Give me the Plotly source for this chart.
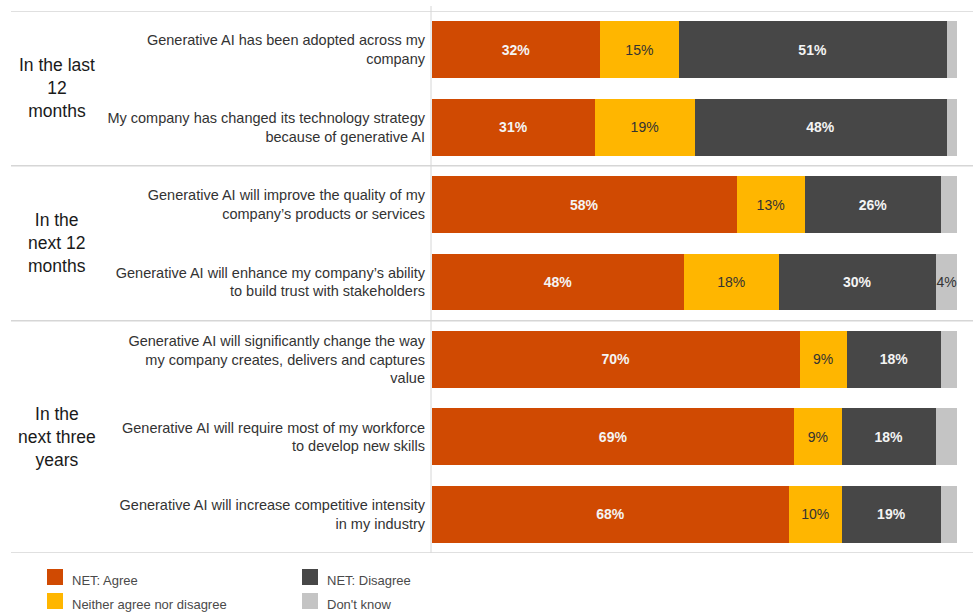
import plotly.graph_objects as go

# Survey statements (top to bottom) and their time-horizon groups
statements = [
    "Generative AI has been adopted across my<br>company",
    "My company has changed its technology strategy<br>because of generative AI",
    "Generative AI will improve the quality of my<br>company\u2019s products or services",
    "Generative AI will enhance my company\u2019s ability<br>to build trust with stakeholders",
    "Generative AI will significantly change the way<br>my company creates, delivers and captures<br>value",
    "Generative AI will require most of my workforce<br>to develop new skills",
    "Generative AI will increase competitive intensity<br>in my industry",
]
groups = ["In the last<br>12<br>months", "In the<br>next 12<br>months", "In the<br>next three<br>years"]
group_rows = [(0, 1), (2, 3), (4, 6)]

# Share of respondents (%)
net_agree = [32, 31, 58, 48, 70, 69, 68]
neither = [15, 19, 13, 18, 9, 9, 10]
net_disagree = [51, 48, 26, 30, 18, 18, 19]
dont_know = [2, 2, 3, 4, 3, 4, 3]
dont_know_labelled = [False, False, False, True, False, False, False]

FONT = "Liberation Sans, Arial, sans-serif"

series = [
    ("NET: Agree", net_agree, "#D04A02", "#F4F4F4", True, None),
    ("Neither agree nor disagree", neither, "#FFB600", "#333333", False, None),
    ("NET: Disagree", net_disagree, "#474747", "#F4F4F4", True, None),
    ("Don't know", dont_know, "#C4C4C4", "#333333", False, dont_know_labelled),
]

fig = go.Figure()
for name, vals, color, tcolor, bold, show in series:
    labels = [f"{v}%" if (show is None or show[i]) else "" for i, v in enumerate(vals)]
    fig.add_trace(go.Bar(
        y=statements, x=vals, orientation="h", name=name,
        marker=dict(color=color, line=dict(width=0)),
        text=labels, textposition="inside", insidetextanchor="middle",
        textangle=0,
        textfont=dict(color=tcolor, size=14, family=FONT,
                      weight="bold" if bold else "normal"),
        cliponaxis=False, hoverinfo="skip", showlegend=False,
    ))

W, H = 973, 612
L, R, T, B = 432, 0, 11, 59
pw, ph = W - L - R, H - T - B


def px_x(px):
    return (px - L) / pw


def px_y(py):
    return 1 - (py - T) / ph


shapes = []
# group separators
for yb in [-0.5, 1.5, 3.5, 6.5]:
    shapes.append(dict(type="line", xref="paper", yref="y", x0=px_x(11), x1=1,
                       y0=yb, y1=yb, line=dict(color="#D6D6D6", width=1.5)))
# axis line on the left of the bars
shapes.append(dict(type="line", xref="paper", yref="paper", x0=px_x(431), x1=px_x(431),
                   y0=0, y1=px_y(6), line=dict(color="#D6D6D6", width=1)))

annotations = []
for g, (a, b) in zip(groups, group_rows):
    annotations.append(dict(text=g, xref="paper", yref="y", x=px_x(57), y=(a + b) / 2,
                            xanchor="center", yanchor="middle", align="center",
                            showarrow=False, font=dict(size=17.5, color="#1A1A1A", family=FONT)))

# 2x2 key below the chart (column-wise: agree/neither, disagree/don't know)
key_slots = [(47, 569), (47, 593), (302, 569), (302, 593)]
for (name, _, color, *_rest), (kx, ky) in zip(series, key_slots):
    shapes.append(dict(type="rect", xref="paper", yref="paper", layer="above",
                       x0=px_x(kx), x1=px_x(kx + 16), y0=px_y(ky + 16), y1=px_y(ky),
                       fillcolor=color, line=dict(width=0)))
    annotations.append(dict(text=name, xref="paper", yref="paper",
                            x=px_x(kx + 23), y=px_y(ky + 11.5),
                            xanchor="left", yanchor="middle", showarrow=False,
                            font=dict(size=13, color="#4A4A4A", family=FONT)))

fig.update_layout(
    width=W, height=H,
    margin=dict(l=L, r=R, t=T, b=B, pad=0),
    barmode="stack", bargap=0.265,
    plot_bgcolor="white", paper_bgcolor="white",
    font=dict(family=FONT, color="#333333"),
    uniformtext=dict(minsize=14, mode="show"),
    xaxis=dict(range=[0, 100 * pw / 525], visible=False, fixedrange=True),
    yaxis=dict(autorange=False, range=[6.5, -0.5], showgrid=False, zeroline=False,
               showline=False, ticks="", ticklabelstandoff=6,
               tickfont=dict(size=14.5, color="#333333", family=FONT), fixedrange=True),
    shapes=shapes, annotations=annotations,
    showlegend=False,
)

fig.write_html("out.html", config={"displayModeBar": False})
